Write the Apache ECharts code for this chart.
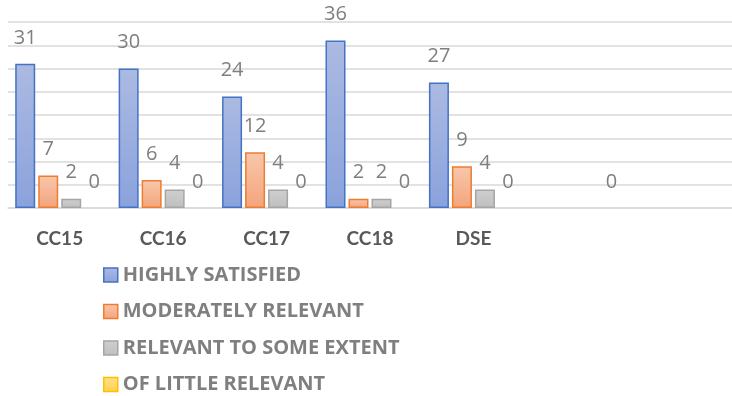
<!DOCTYPE html>
<html>
<head>
<meta charset="utf-8">
<script src="https://cdn.jsdelivr.net/npm/echarts@6/dist/echarts.min.js"></script>
<style>
  html, body { margin: 0; padding: 0; background: #fff; }
  #main { width: 732px; height: 396px; }
</style>
</head>
<body>
<div id="main"></div>
<script>
// categories (the last two columns are empty in the source sheet)
var categories = ['CC15', 'CC16', 'CC17', 'CC18', 'DSE', '', ''];
var seriesNames = ['HIGHLY SATISFIED', 'MODERATELY RELEVANT', 'RELEVANT TO SOME EXTENT', 'OF LITTLE RELEVANT'];
var highlySatisfied = [31, 30, 24, 36, 27, null, null];
var moderatelyRelevant = [7, 6, 12, 2, 9, null, null];
var relevantSomeExtent = [2, 4, 4, 2, 4, null, null];
var littleRelevant = [0, 0, 0, 0, 0, 0, null];

function grad(top, bottom) {
    return new echarts.graphic.LinearGradient(0, 0, 0, 1, [
        {offset: 0, color: top},
        {offset: 1, color: bottom}
    ]);
}

var styles = [
    {fill: grad('#abbae2', '#8aa2dc'), border: '#4472c4'},
    {fill: grad('#f8c7ab', '#f4a47c'), border: '#ed7d31'},
    {fill: grad('#cfcfcf', '#bfbfbf'), border: '#a5a5a5'},
    {fill: grad('#ffe08a', '#ffd24d'), border: '#ffc000'}
];
var values = [highlySatisfied, moderatelyRelevant, relevantSomeExtent, littleRelevant];

var series = [];
var legendData = [];
for (var i = 0; i < seriesNames.length; i++) {
    // zero-height bars of the last series show no outline in the source
    var bw = (i == 3) ? 0 : 1.5;
    series.push({
        name: seriesNames[i],
        type: 'bar',
        data: values[i],
        barWidth: 20,
        barGap: '15%',
        itemStyle: {
            color: styles[i].fill,
            borderColor: styles[i].border,
            borderWidth: bw
        },
        label: {
            show: true,
            position: 'top',
            distance: 16,
            color: '#7f7f7f',
            fontFamily: 'Open Sans',
            fontSize: 20
        }
    });
    legendData.push({
        name: seriesNames[i],
        itemStyle: {borderColor: styles[i].border, borderWidth: 1.5}
    });
}

var chart = echarts.init(document.getElementById('main'));
var option = {
    animation: false,
    textStyle: {fontFamily: 'Open Sans'},
    grid: {left: 8, right: -4, top: 22, bottom: 188},
    xAxis: {
        type: 'category',
        data: categories,
        axisLine: {lineStyle: {color: '#d9d9d9', width: 1.5}},
        axisTick: {show: false},
        axisLabel: {
            color: '#595959',
            fontWeight: 'bold',
            fontFamily: 'Lato',
            fontSize: 19,
            margin: 21
        }
    },
    yAxis: {
        type: 'value',
        min: 0,
        max: 40,
        interval: 5,
        axisLabel: {show: false},
        axisLine: {show: false},
        axisTick: {show: false},
        splitLine: {lineStyle: {color: '#d9d9d9', width: 1.5}}
    },
    legend: {
        orient: 'vertical',
        left: 103,
        top: 265,
        height: 150,
        padding: 0,
        itemWidth: 14,
        itemHeight: 14,
        itemGap: 16.5,
        icon: 'rect',
        textStyle: {
            color: '#7f7f7f',
            fontWeight: 'bold',
            fontSize: 20,
            lineHeight: 20,
            fontFamily: 'Open Sans'
        },
        data: legendData
    },
    series: series
};
chart.setOption(option);
</script>
</body>
</html>
